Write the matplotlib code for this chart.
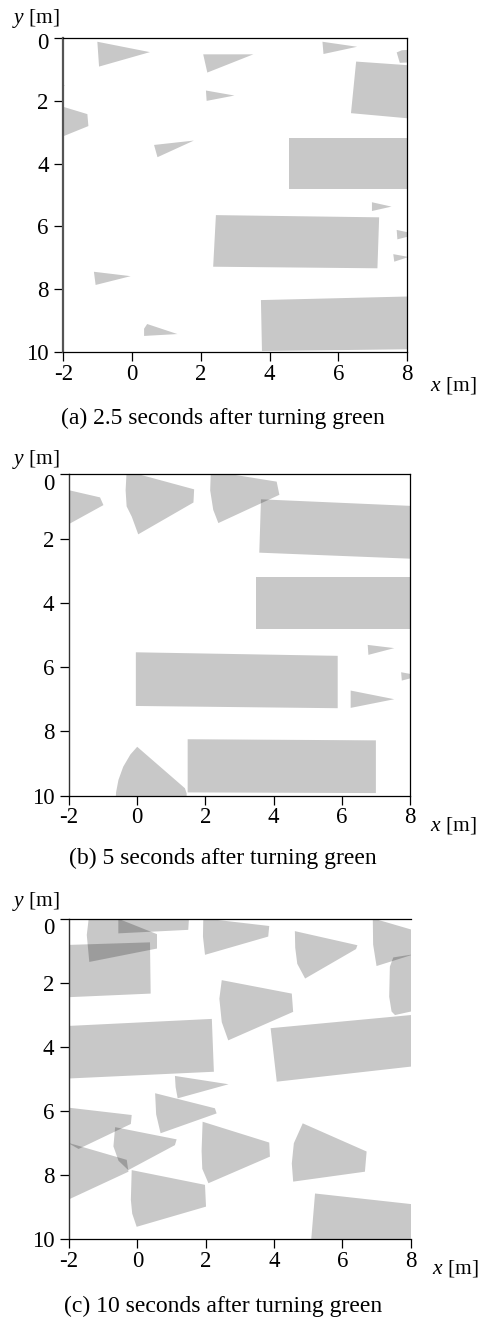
import matplotlib
matplotlib.use("Agg")
import matplotlib.pyplot as plt
from matplotlib.patches import Polygon
from matplotlib.transforms import ScaledTranslation

plt.rcParams["font.family"] = ["Liberation Serif", "DejaVu Serif"]
plt.rcParams["mathtext.fontset"] = "custom"
plt.rcParams["mathtext.rm"] = "Liberation Serif"
plt.rcParams["mathtext.it"] = "Liberation Serif:italic"
plt.rcParams["axes.unicode_minus"] = False

# Occupied regions (vehicles and pedestrian view fans) in world coordinates [m]
shapes_a = [
    [(-1.01, 0.13), (0.52, 0.46), (-0.96, 0.92)],
    [(2.07, 0.53), (3.53, 0.53), (2.19, 1.11)],
    [(5.54, 0.13), (6.55, 0.29), (5.57, 0.52)],
    [(7.70, 0.47), (7.85, 0.40), (8.2, 0.38), (8.2, 0.78), (7.79, 0.80)],
    [(6.52, 0.76), (9.0, 0.95), (9.0, 2.66), (6.37, 2.40)],
    [(2.15, 1.68), (2.98, 1.84), (2.17, 2.01)],
    [(-2.2, 1.42), (-1.95, 1.52), (-2.2, 1.62)],
    [(-2.6, 2.0), (-1.30, 2.43), (-1.27, 2.81), (-2.6, 3.4)],
    [(0.64, 3.41), (1.80, 3.27), (0.74, 3.80)],
    [(4.58, 3.18), (9.0, 3.18), (9.0, 4.82), (4.58, 4.82)],
    [(6.98, 5.23), (7.55, 5.37), (6.98, 5.51)],
    [(2.44, 5.64), (7.19, 5.71), (7.14, 7.33), (2.36, 7.28)],
    [(7.70, 6.11), (8.3, 6.25), (7.72, 6.41)],
    [(7.60, 6.88), (8.05, 6.97), (7.63, 7.12)],
    [(-1.11, 7.44), (-0.04, 7.58), (-1.06, 7.86)],
    [(0.44, 9.10), (1.32, 9.42), (0.35, 9.48), (0.35, 9.25)],
    [(3.75, 8.34), (9.0, 8.20), (9.0, 9.89), (3.78, 9.96)],
]

shapes_b = [
    [(-2.6, 0.35), (-1.09, 0.72), (-0.99, 0.96), (-2.6, 1.9)],
    [(-0.31, -0.1), (1.67, 0.47), (1.65, 0.88), (0.03, 1.87),
     (-0.16, 1.32), (-0.31, 1.0), (-0.34, 0.5)],
    [(2.16, -0.1), (4.09, 0.23), (4.17, 0.64), (2.38, 1.52),
     (2.23, 1.11), (2.14, 0.5)],
    [(3.63, 0.78), (9.0, 1.03), (9.0, 2.67), (3.58, 2.44)],
    [(3.48, 3.20), (9.0, 3.20), (9.0, 4.82), (3.48, 4.82)],
    [(6.76, 5.31), (7.54, 5.41), (6.78, 5.62)],
    [(7.74, 6.16), (8.3, 6.27), (7.76, 6.42)],
    [(-0.04, 5.54), (5.88, 5.65), (5.88, 7.28), (-0.04, 7.21)],
    [(6.26, 6.73), (7.54, 7.00), (6.26, 7.27)],
    [(0.0, 8.48), (1.40, 9.77), (1.45, 9.93), (1.45, 10.3), (-0.64, 10.3),
     (-0.62, 9.9), (-0.55, 9.51), (-0.41, 9.10), (-0.2, 8.72)],
    [(1.48, 8.245), (7.0, 8.28), (7.0, 9.92), (1.48, 9.90)],
]

shapes_c = [
    [(-1.385, -0.36), (0.575, 0.475), (0.575, 0.924), (-1.406, 1.342), (-1.48, 0.5)],
    [(-0.557, -0.5), (1.54, -0.5), (1.49, 0.34), (-0.557, 0.45)],
    [(-2.6, 0.83), (0.37, 0.73), (0.39, 2.33), (-2.6, 2.47)],
    [(1.93, -0.02), (3.86, 0.22), (3.83, 0.55), (1.98, 1.12), (1.92, 0.55)],
    [(4.61, 0.38), (6.44, 0.82), (6.40, 0.94), (4.91, 1.86), (4.68, 1.40), (4.62, 0.9)],
    [(6.89, -0.02), (8.4, 0.45), (8.4, 1.0), (7.0, 1.47), (6.9, 0.8)],
    [(7.49, 1.20), (8.6, 1.02), (8.6, 2.75), (7.54, 3.0), (7.44, 2.89),
     (7.37, 2.43), (7.39, 1.49)],
    [(2.47, 1.91), (4.52, 2.33), (4.56, 2.90), (2.66, 3.79), (2.47, 3.22), (2.40, 2.49)],
    [(-2.6, 3.37), (2.18, 3.12), (2.24, 4.77), (-2.6, 5.01)],
    [(3.90, 3.41), (9.0, 2.9), (9.0, 4.49), (4.08, 5.08)],
    [(1.10, 4.90), (2.67, 5.16), (1.18, 5.60), (1.12, 5.25)],
    [(0.52, 5.44), (2.27, 5.91), (2.32, 6.07), (0.68, 6.69), (0.55, 6.1)],
    [(-2.1, 5.88), (-0.165, 6.12), (-0.19, 6.40), (-1.72, 7.18), (-2.1, 6.95)],
    [(-2.5, 6.84), (-0.31, 7.52), (-0.26, 7.89), (-2.5, 9.0)],
    [(-0.65, 6.50), (1.15, 6.88), (1.10, 7.06), (-0.265, 7.84), (-0.55, 7.55), (-0.70, 7.1)],
    [(-0.165, 7.84), (1.98, 8.30), (2.01, 8.98), (-0.02, 9.61), (-0.15, 9.2), (-0.19, 8.77)],
    [(1.91, 6.33), (3.86, 6.98), (3.88, 7.42), (2.08, 8.25), (1.90, 7.8), (1.88, 7.24)],
    [(4.84, 6.38), (6.71, 7.26), (6.66, 7.89), (4.56, 8.20), (4.52, 7.63), (4.58, 7.0)],
    [(5.20, 8.57), (8.6, 8.97), (8.6, 10.5), (5.05, 10.5)],
]

x_ticks = [-2, 0, 2, 4, 6, 8]
y_ticks = [0, 2, 4, 6, 8, 10]
captions = [
    "(a) 2.5 seconds after turning green",
    "(b) 5 seconds after turning green",
    "(c) 10 seconds after turning green",
]
panel_shapes = [shapes_a, shapes_b, shapes_c]

# figure-fraction layout: [left, bottom, width, height]
axes_boxes = [
    [0.1319, 0.7333, 0.7160, 0.2382],
    [0.14375, 0.3977, 0.7104, 0.2433],
    [0.14375, 0.06185, 0.7119, 0.2425],
]
caption_y = [0.6833, 0.3503, 0.0108]
ylabel_pos = [(-0.150, 1.062), (-0.168, 1.047), (-0.168, 1.053)]
xlabel_pos = [(1.067, -0.107), (1.059, -0.094), (1.061, -0.091)]
zero_label_drop = [3, 8, 7]          # downward nudge of the "0" y label, px
right_spine = [True, True, False]

fig = plt.figure(figsize=(4.8, 13.21), dpi=100)

for i, shapes in enumerate(panel_shapes):
    ax = fig.add_axes(axes_boxes[i])
    for verts in shapes:
        ax.add_patch(Polygon(verts, closed=True, facecolor="black",
                             alpha=0.215, edgecolor="none", linewidth=0))
    ax.set_xlim(-2, 8)
    ax.set_ylim(10, 0)
    ax.set_xticks(x_ticks)
    ax.set_yticks(y_ticks)
    ax.set_xticklabels([str(v) for v in x_ticks])
    ax.set_yticklabels([str(v) for v in y_ticks])
    ax.tick_params(direction="out", length=6.5, width=0.9, labelsize=16.5,
                   colors="black")
    ax.tick_params(axis="y", pad=4)
    ax.tick_params(axis="x", pad=2)
    shift = ScaledTranslation(0, -zero_label_drop[i] / 100, fig.dpi_scale_trans)
    ylabels = ax.get_yticklabels()
    ylabels[0].set_transform(ylabels[0].get_transform() + shift)
    for side in ["top", "bottom", "right"]:
        ax.spines[side].set_linewidth(0.9)
        ax.spines[side].set_color("black")
    ax.spines["left"].set_color("#555555" if i == 0 else "#333333")
    ax.spines["left"].set_linewidth(1.6 if i == 0 else 1.0)
    ax.spines["right"].set_visible(right_spine[i])
    ax.text(*ylabel_pos[i], "$y$ [m]", transform=ax.transAxes,
            ha="left", va="center", fontsize=15.5)
    ax.text(*xlabel_pos[i], "$x$ [m]", transform=ax.transAxes,
            ha="left", va="center", fontsize=15.5)
    fig.text(0.465, caption_y[i], captions[i], ha="center", va="center",
             fontsize=17)

fig.savefig("out.png", dpi=100)
